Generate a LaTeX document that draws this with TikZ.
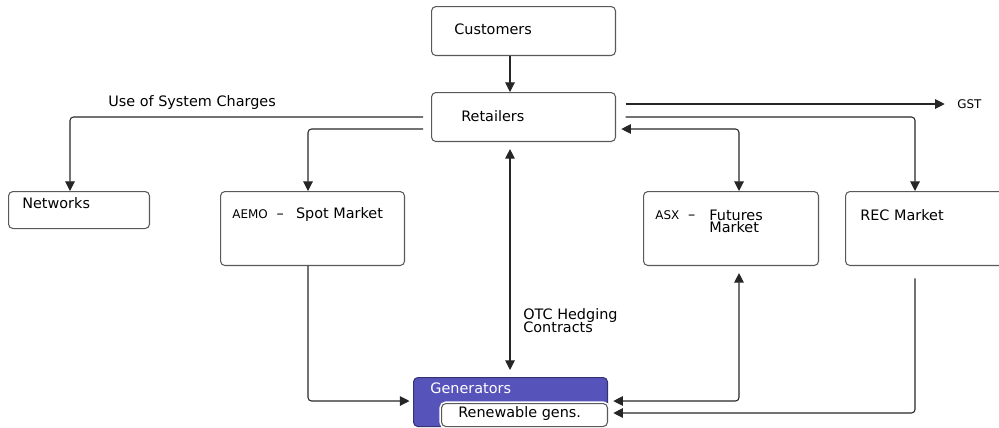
\documentclass[tikz,border=0pt]{standalone}
\usepackage{fontspec}
\setmainfont{DejaVu Sans}
\usetikzlibrary{arrows.meta}
\definecolor{genblue}{RGB}{86,84,186}
\tikzset{
  box/.style={draw=black!65, rounded corners=2.5pt, line width=0.6pt, anchor=north west, inner sep=0pt},
  genbox/.style={box, draw=genblue!60!black, fill=genblue},
  txt/.style={anchor=west, inner sep=0pt, font=\fontsize{8.2}{6.8}\selectfont, align=left},
  smalltxt/.style={txt, font=\fontsize{6.8}{6.8}\selectfont},
  conn/.style={draw=black!85, line width=0.6pt, rounded corners=2pt, -{Triangle[length=5.5pt,width=5.5pt]}},
  twoway/.style={conn, {Triangle[length=5.5pt,width=5.5pt]}-{Triangle[length=5.5pt,width=5.5pt]}}
}
\begin{document}
\begin{tikzpicture}[x=0.02cm,y=-0.02cm]
  \useasboundingbox (0,0) rectangle (999,427);

  \node[box, minimum width=3.68cm, minimum height=0.98cm] (cust) at (431,6) {};
  \node[box, minimum width=3.68cm, minimum height=0.98cm] (ret) at (431,92) {};
  \node[box, minimum width=2.82cm, minimum height=0.74cm] (net) at (8,191) {};
  \node[box, minimum width=3.68cm, minimum height=1.48cm] (aemo) at (220,191) {};
  \node[box, minimum width=3.50cm, minimum height=1.48cm] (asx) at (643,191) {};
  \node[box, minimum width=3.50cm, minimum height=1.48cm] (rec) at (845,191) {};
  \node[genbox, minimum width=3.88cm, minimum height=0.98cm] (gen) at (413,377) {};
  \node[box, fill=white, preaction={draw=white, line width=2.4pt}, minimum width=3.32cm, minimum height=0.46cm] (ren) at (441,403) {};

  \node[txt] (custtxt) at (454,29) {Customers};
  \node[txt] (rettxt) at (461,116) {Retailers};
  \node[txt] (nettxt) at (22,203) {Networks};
  \node[txt] (aemotxt) at (232,215) {{\fontsize{6.8}{6.8}\selectfont AEMO}\hspace{5pt}--\hspace{7pt}Spot Market};
  \node[txt] (asxtxt) at (655,215) {{\fontsize{6.8}{6.8}\selectfont ASX}\hspace{5pt}--};
  \node[txt, anchor=north west] (futtxt) at (709,210) {Futures\\Market};
  \node[txt] (rectxt) at (860,215) {REC Market};
  \node[txt, text=white] (gentxt) at (430,388) {Generators};
  \node[txt] (rentxt) at (458,414) {Renewable gens.};
  \node[txt] (usetxt) at (108,103) {Use of System Charges};
  \node[txt, anchor=north west] (otctxt) at (523,308) {OTC Hedging\\[-1pt]Contracts};
  \node[smalltxt] (gst) at (957,104) {GST};

  \draw[conn] (cust.south -| 510,0) -- (ret.north -| 510,0);
  \draw[conn, shorten <=4.5pt] (ret.west |- 0,117) -| (net.north -| 70,0);
  \draw[conn, shorten <=4.5pt] (ret.west |- 0,129) -| (aemo.north -| 308,0);
  \draw[conn, shorten <=5.5pt, shorten >=7pt] (ret.east |- 0,104) -- (gst.west);
  \draw[conn, shorten <=5.5pt] (ret.east |- 0,117) -| (rec.north -| 915,0);
  \draw[twoway, shorten <=3pt] (ret.east |- 0,129) -| (asx.north -| 739,0);
  \draw[twoway, shorten <=4pt, shorten >=4pt] (ret.south -| 510,0) -- (gen.north -| 510,0);
  \draw[conn, shorten >=2pt] (aemo.south -| 308,0) |- (gen.west |- 0,401);
  \draw[twoway, shorten <=3pt, shorten >=4pt] (gen.east |- 0,401) -| (asx.south -| 739,0);
  \draw[conn, shorten <=7pt, shorten >=3pt] (rec.south -| 915,0) |- (ren.east |- 0,413);
\end{tikzpicture}
\end{document}
